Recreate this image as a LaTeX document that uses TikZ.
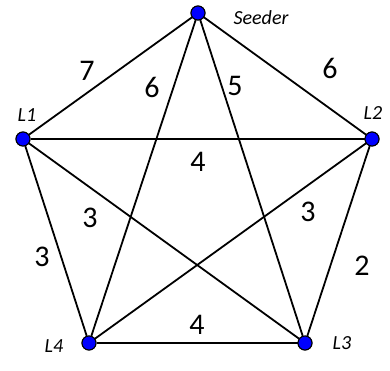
\documentclass[tikz,border=0pt]{standalone}
\usepackage{fontspec}
\setmainfont{Carlito}
\begin{document}
\begin{tikzpicture}[x=1pt,y=-1pt,
  vtx/.style={circle,draw=black,fill=blue,line width=1pt,minimum size=14pt,inner sep=0pt},
  edge/.style={line width=1.8pt,black},
  wt/.style={font=\fontsize{30}{30}\selectfont,text=black,inner sep=0pt},
  nm/.style={font=\fontsize{20}{20}\selectfont\itshape,text=black,inner sep=0pt}]
\useasboundingbox (0,0) rectangle (390,370);
\node[vtx] (S) at (198,13) {};
\node[vtx] (L1) at (23,139) {};
\node[vtx] (L2) at (372,139) {};
\node[vtx] (L3) at (305,343) {};
\node[vtx] (L4) at (89,343) {};
\draw[edge] (S) -- (L1);
\draw[edge] (S) -- (L2);
\draw[edge] (S) -- (L3);
\draw[edge] (S) -- (L4);
\draw[edge] (L1) -- (L2);
\draw[edge] (L1) -- (L3);
\draw[edge] (L1) -- (L4);
\draw[edge] (L2) -- (L3);
\draw[edge] (L2) -- (L4);
\draw[edge] (L3) -- (L4);
\node[vtx] at (S) {};
\node[vtx] at (L1) {};
\node[vtx] at (L2) {};
\node[vtx] at (L3) {};
\node[vtx] at (L4) {};
\node[nm] (nS) at (261,18) {Seeder};
\node[nm] (n1) at (27,115) {L1};
\node[nm] (n2) at (373,113) {L2};
\node[nm] (n3) at (342,343) {L3};
\node[nm] (n4) at (54,346) {L4};
\node[wt] (w1) at (87,71) {7};
\node[wt] (w2) at (152,87) {6};
\node[wt] (w3) at (235,86) {5};
\node[wt] (w4) at (330,68) {6};
\node[wt] (w5) at (198,162) {4};
\node[wt] (w6) at (90,218) {3};
\node[wt] (w7) at (42,257) {3};
\node[wt] (w8) at (308,212) {3};
\node[wt] (w9) at (362,266) {2};
\node[wt] (w10) at (197,325) {4};
\end{tikzpicture}
\end{document}
